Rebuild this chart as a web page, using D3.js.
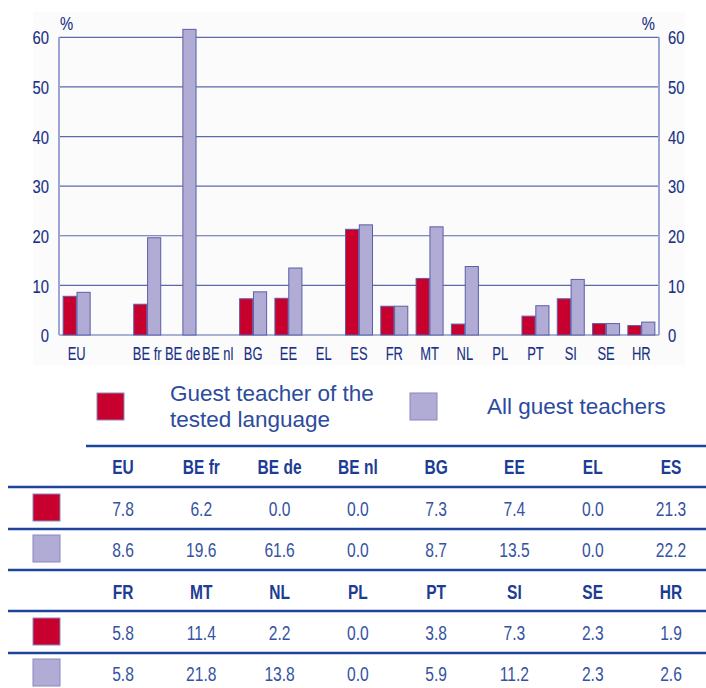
<!DOCTYPE html>
<html>
<head>
<meta charset="utf-8">
<script src="https://cdn.jsdelivr.net/npm/d3@7"></script>
<style>
  html, body { margin: 0; padding: 0; background: #ffffff; }
  svg { display: block; }
  .cond { font-family: "Liberation Sans", Arial, sans-serif; }
</style>
</head>
<body>
<svg id="chart" width="706" height="688"></svg>
<script>
// Share of guest teachers (%)
const categories = ["EU", "BE fr", "BE de", "BE nl", "BG", "EE", "EL", "ES",
                    "FR", "MT", "NL", "PL", "PT", "SI", "SE", "HR"];
const testedLanguage = [7.8, 6.2, 0.0, 0.0, 7.3, 7.4, 0.0, 21.3,
                        5.8, 11.4, 2.2, 0.0, 3.8, 7.3, 2.3, 1.9];
const allGuest = [8.6, 19.6, 61.6, 0.0, 8.7, 13.5, 0.0, 22.2,
                  5.8, 21.8, 13.8, 0.0, 5.9, 11.2, 2.3, 2.6];
const seriesNames = ["Guest teacher of the tested language", "All guest teachers"];
const yTicks = [0, 10, 20, 30, 40, 50, 60];

const RED = "#c8002e", LILAC = "#b0acd5", BAR_STROKE = "#5b5fa6";
const INK = "#172f84", VALUE_INK = "#3552a3", RULE = "#1f449b";

const svg = d3.select("#chart");

// narrow the glyphs horizontally (condensed face look) while keeping each anchor in place
function condense(sel, sx) {
  sel.each(function () {
    const t = d3.select(this);
    const px = +(t.attr("x") || 0), py = +(t.attr("y") || 0);
    t.attr("x", 0).attr("y", 0).attr("transform", `translate(${px},${py}) scale(${sx},1)`);
  });
  return sel;
}
// slightly heavier strokes for the chart labels
function ink(sel) {
  return sel.attr("fill", INK).attr("stroke", INK).attr("stroke-width", 0.12);
}

// ---- chart panel ----
svg.append("rect").attr("x", 33).attr("y", 12).attr("width", 652).attr("height", 353)
  .attr("fill", "#fbfbfb");

const plotLeft = 59, plotRight = 659, plotTop = 37.3, plotBottom = 335;
// a spacer slot separates the EU average from the countries
const domain = [categories[0], "__gap", ...categories.slice(1)];
const x = d3.scaleBand().domain(domain).range([plotLeft, plotRight]).paddingInner(0).paddingOuter(0);
const y = d3.scaleLinear().domain([0, 60]).range([plotBottom, plotTop]);

// gridlines
svg.append("g").selectAll("line").data(yTicks).join("line")
  .attr("x1", plotLeft).attr("x2", plotRight)
  .attr("y1", d => y(d)).attr("y2", d => y(d))
  .attr("stroke", "#5b68aa").attr("stroke-width", 1.2);

// vertical axis lines
[plotLeft, plotRight].forEach(px => {
  svg.append("line").attr("x1", px).attr("x2", px).attr("y1", y(60)).attr("y2", y(0))
    .attr("stroke", "#9ea5d6").attr("stroke-width", 2);
});

// y axes
const yLeft = d3.axisLeft(y).tickValues(yTicks).tickSize(0).tickPadding(10);
const yRight = d3.axisRight(y).tickValues(yTicks).tickSize(0).tickPadding(9);
const gl = svg.append("g").attr("transform", `translate(${plotLeft},0)`).call(yLeft);
const gr = svg.append("g").attr("transform", `translate(${plotRight},0)`).call(yRight);
[gl, gr].forEach(g => {
  g.select(".domain").remove();
  g.attr("font-family", null).attr("font-size", null);
  const t = ink(g.selectAll("text").attr("class", "cond").attr("font-size", 18.5)
    .attr("dy", "0.36em"));
  condense(t, 0.8);
});

condense(ink(svg.append("text").attr("class", "cond").attr("x", 60).attr("y", 30)
  .attr("font-size", 18.5).text("%")), 0.8);
condense(ink(svg.append("text").attr("class", "cond").attr("x", 655).attr("y", 30)
  .attr("text-anchor", "end").attr("font-size", 18.5).text("%")), 0.8);

// bars
const inner = d3.scaleBand().domain([0, 1]).range([0, x.bandwidth()]).paddingOuter(0.3).paddingInner(0.05);
const rows = categories.map((c, i) => ({ c, v: [testedLanguage[i], allGuest[i]] }));
const groups = svg.append("g").selectAll("g").data(rows).join("g")
  .attr("transform", d => `translate(${x(d.c)},0)`);
groups.selectAll("rect").data(d => d.v.map((v, k) => ({ v, k })).filter(o => o.v > 0)).join("rect")
  .attr("x", o => inner(o.k)).attr("width", inner.bandwidth())
  .attr("y", o => y(o.v)).attr("height", o => y(0) - y(o.v))
  .attr("fill", o => o.k === 0 ? RED : LILAC)
  .attr("stroke", BAR_STROKE).attr("stroke-width", 1);

// x axis labels
const xAxis = d3.axisBottom(x).tickValues(categories).tickSize(0).tickPadding(12);
const gx = svg.append("g").attr("transform", `translate(0,${plotBottom})`).call(xAxis);
gx.select(".domain").remove();
gx.attr("font-family", null).attr("font-size", null);
condense(ink(gx.selectAll("text").attr("class", "cond").attr("font-size", 18.5)
  .attr("dy", "0.71em")), 0.7);

// ---- legend ----
const legend = svg.append("g");
const legendItems = [
  { color: RED, x: 97, lines: ["Guest teacher of the", "tested language"], tx: 170, ty: [401, 427] },
  { color: LILAC, x: 410, lines: ["All guest teachers"], tx: 487, ty: [414] }
];
legendItems.forEach(it => {
  legend.append("rect").attr("x", it.x).attr("y", 393).attr("width", 27).attr("height", 27)
    .attr("fill", it.color).attr("stroke", "#8a88c0").attr("stroke-width", 1);
  it.lines.forEach((t, i) => legend.append("text").attr("x", it.tx).attr("y", it.ty[i])
    .attr("font-family", "Liberation Sans, Arial, sans-serif").attr("font-size", 22.5)
    .attr("fill", "#2d4b9e").text(t));
});

// ---- data table ----
const table = svg.append("g");
const colX = d3.scaleLinear().domain([0, 7]).range([123, 671]);
const halves = [0, 8];
const ruleYs = [446, 487, 529, 570, 611, 653];

table.append("line").attr("x1", 86).attr("x2", 706).attr("y1", ruleYs[0]).attr("y2", ruleYs[0])
  .attr("stroke", RULE).attr("stroke-width", 2.5);
ruleYs.slice(1).forEach(yy => table.append("line").attr("x1", 8).attr("x2", 706)
  .attr("y1", yy).attr("y2", yy).attr("stroke", RULE).attr("stroke-width", 2.5));

const headerBase = [474, 599];
const rowBase = [[515.5, 556.5], [639.5, 680.5]];
const boxTop = [[494, 535], [618, 659]];
const series = [testedLanguage, allGuest];

halves.forEach((start, h) => {
  const cats = categories.slice(start, start + 8);
  condense(table.append("g").selectAll("text").data(cats).join("text")
    .attr("class", "cond").attr("x", (d, i) => colX(i)).attr("y", headerBase[h])
    .attr("text-anchor", "middle").attr("font-size", 21).attr("font-weight", "bold")
    .attr("fill", "#1d3c93").text(d => d), 0.74);
  series.forEach((vals, s) => {
    table.append("rect").attr("x", 33).attr("y", boxTop[h][s]).attr("width", 27).attr("height", 27)
      .attr("fill", s === 0 ? RED : LILAC).attr("stroke", "#8a88c0").attr("stroke-width", 1);
    condense(table.append("g").selectAll("text").data(vals.slice(start, start + 8)).join("text")
      .attr("class", "cond").attr("x", (d, i) => colX(i)).attr("y", rowBase[h][s])
      .attr("text-anchor", "middle").attr("font-size", 19.5).attr("fill", VALUE_INK)
      .text(d => d.toFixed(1)), 0.8);
  });
});
</script>
</body>
</html>
